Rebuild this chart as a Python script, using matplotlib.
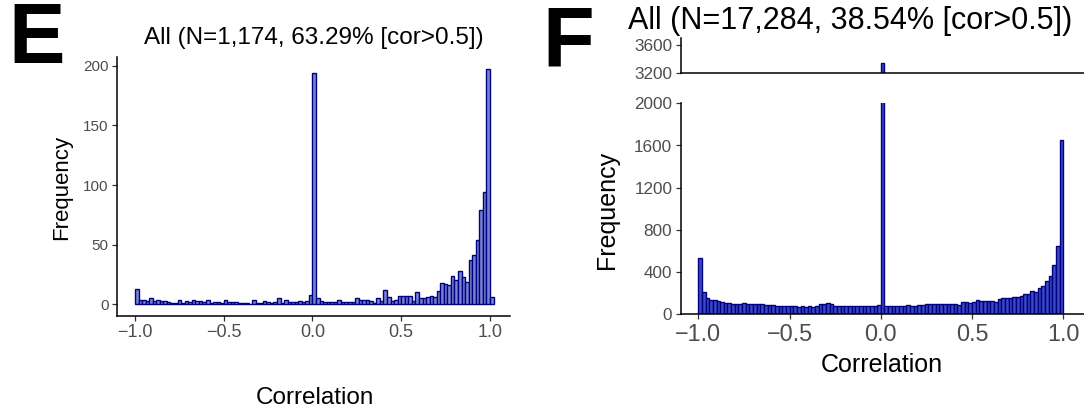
import numpy as np
import matplotlib
matplotlib.use("Agg")
import matplotlib.pyplot as plt

# ---------------- data ----------------
bin_start = -1.0
bin_width = 0.02

# Panel E: counts per 0.02-wide bin starting at -1.0 (101 bins)
counts_E = [13, 4, 4, 3, 5, 3, 4, 3, 3, 2,
            1, 1, 4, 1, 3, 2, 4, 3, 3, 2,
            4, 1, 2, 2, 1, 4, 2, 2, 2, 1,
            1, 1, 0, 4, 1, 1, 3, 2, 1, 2,
            5, 1, 4, 2, 2, 2, 3, 2, 3, 8,
            194, 5, 3, 2, 2, 2, 2, 4, 2, 2,
            2, 2, 5, 4, 4, 4, 3, 1, 5, 3,
            12, 6, 3, 4, 7, 7, 7, 7, 3, 10,
            5, 5, 6, 7, 6, 11, 18, 17, 16, 24,
            20, 28, 23, 19, 37, 41, 54, 79, 94, 197,
            6]

# Panel F: counts per 0.02-wide bin starting at -1.0 (100 bins)
counts_F = [535, 210, 158, 140, 137, 122, 116, 107, 110, 100,
            100, 97, 103, 97, 95, 95, 94, 94, 91, 88,
            88, 82, 76, 79, 79, 79, 75, 70, 76, 70,
            82, 73, 82, 100, 95, 106, 95, 82, 82, 80,
            80, 78, 80, 78, 78, 80, 80, 78, 80, 85,
            3340, 76, 76, 78, 82, 76, 76, 85, 76, 78,
            85, 85, 95, 100, 95, 95, 100, 95, 95, 100,
            100, 85, 113, 116, 106, 116, 132, 122, 122, 122,
            126, 116, 148, 157, 154, 157, 163, 163, 170, 195,
            189, 220, 211, 252, 265, 315, 363, 465, 652, 1648]

title_E = "All (N=1,174, 63.29% [cor>0.5])"
title_F = "All (N=17,284, 38.54% [cor>0.5])"
xlabel = "Correlation"
ylabel = "Frequency"
xticks = [-1.0, -0.5, 0.0, 0.5, 1.0]
yticks_E = [0, 50, 100, 150, 200]
yticks_F_low = [0, 400, 800, 1200, 1600, 2000]
yticks_F_high = [3200, 3600]

# ---------------- style ----------------
plt.rcParams['font.family'] = ['Liberation Sans', 'DejaVu Sans']
W, H = 1084, 415
fig = plt.figure(figsize=(W / 100, H / 100), dpi=100)

EDGE = '#000080'
TICKLAB = '#4D4D4D'


def px_axes(l, t, r, b):
    return fig.add_axes([l / W, 1 - b / H, (r - l) / W, (b - t) / H])


def style(ax, xfs, yfs, show_x=True):
    for s in ['top', 'right']:
        ax.spines[s].set_visible(False)
    for s in ['left', 'bottom']:
        ax.spines[s].set_color('black')
        ax.spines[s].set_linewidth(1.1)
    ax.tick_params(axis='both', direction='out', length=3.5, width=0.9,
                   color='#333333', labelcolor=TICKLAB, pad=2.5)
    ax.tick_params(axis='x', labelsize=xfs)
    ax.tick_params(axis='y', labelsize=yfs)
    if not show_x:
        ax.tick_params(axis='x', length=0, labelbottom=False)
    ax.set_facecolor('white')


def draw_hist(ax, counts, fill):
    edges = bin_start + bin_width * np.arange(len(counts) + 1)
    ax.bar(edges[:-1], counts, width=bin_width, align='edge',
           color=fill, edgecolor=EDGE, linewidth=1.0)


def fmt_x(v):
    return f"{v:.1f}".replace('-', '\u2212')

# ---------------- panel E ----------------
axE = px_axes(117, 57, 510, 316)
draw_hist(axE, counts_E, '#7683CF')
axE.set_xlim(-1.1014, 1.1127)
axE.set_ylim(-9.8, 207.3)
axE.set_xticks(xticks)
axE.set_xticklabels([fmt_x(v) for v in xticks])
axE.set_yticks(yticks_E)
style(axE, 13, 11)

fig.text(313.5 / W, 1 - 38 / H, title_E, ha='center', va='center', fontsize=17.5, color='black')
fig.text(62 / W, 1 - 187 / H, ylabel, ha='center', va='center', rotation=90, fontsize=16, color='black')
fig.text(315 / W, 1 - 398 / H, xlabel, ha='center', va='center', fontsize=17.5, color='black')
fig.text(8 / W, 1 - 41 / H, 'E', ha='left', va='center', fontsize=61, fontweight='bold', color='black')

# ---------------- panel F ----------------
xl_F = (-1.0964, 1.201)
axF = px_axes(680.7, 103.3, 1100, 314.3)
draw_hist(axF, counts_F, '#3A48C4')
axF.set_xlim(*xl_F)
axF.set_ylim(0, 2000)
axF.set_xticks(xticks)
axF.set_xticklabels([fmt_x(v) for v in xticks])
axF.set_yticks(yticks_F_low)
style(axF, 16.8, 12.3)

axF2 = px_axes(680.7, 38, 1100, 73.3)
draw_hist(axF2, counts_F, '#3A48C4')
axF2.set_xlim(*xl_F)
axF2.set_ylim(3200, 3700)
axF2.set_yticks(yticks_F_high)
style(axF2, 16.8, 12.3, show_x=False)

fig.text(850 / W, 1 - 21 / H, title_F, ha='center', va='center', fontsize=22, color='black')
fig.text(607 / W, 1 - 210 / H, ylabel, ha='center', va='center', rotation=90, fontsize=18, color='black')
fig.text(882 / W, 1 - 365 / H, xlabel, ha='center', va='center', fontsize=18, color='black')
fig.text(542 / W, 1 - 45 / H, 'F', ha='left', va='center', fontsize=61, fontweight='bold', color='black')

fig.savefig('out.png', dpi=100, facecolor='white')
